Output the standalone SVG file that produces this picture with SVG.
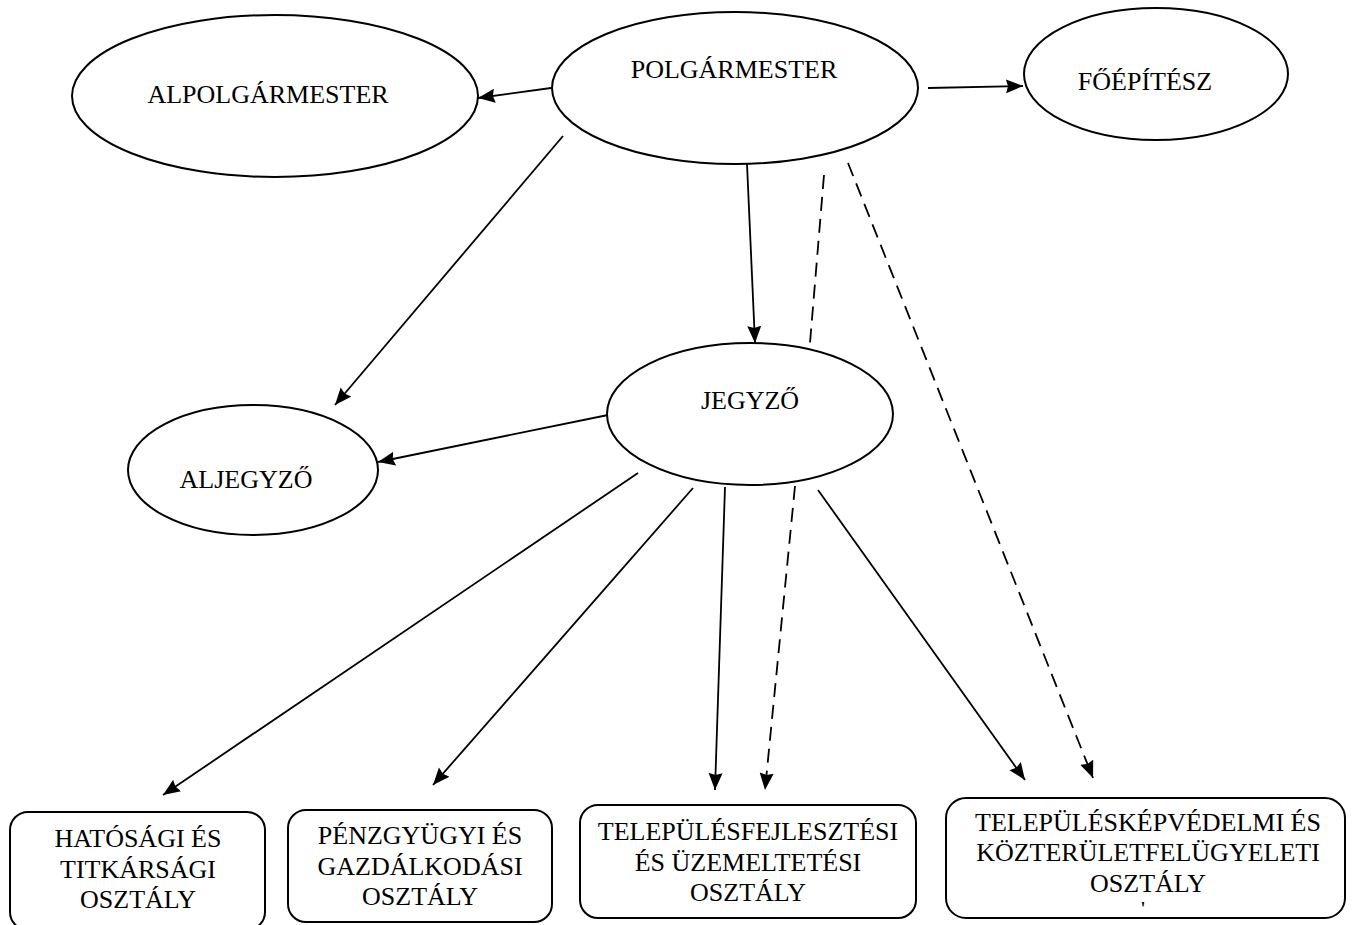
<svg xmlns="http://www.w3.org/2000/svg" width="1357" height="925" viewBox="0 0 1357 925">
<style>
.node{fill:#fff;stroke:#000;stroke-width:2}
.t{font-family:"Liberation Serif","Times New Roman",serif;font-size:26px;fill:#000;text-anchor:middle}
.c{fill:none;stroke:#000;stroke-width:1.8}
.d{stroke-dasharray:14 8}
</style>
<defs>
<marker id="ah" markerUnits="userSpaceOnUse" markerWidth="20" markerHeight="16" refX="17" refY="7" orient="auto">
<path d="M0,0 L17,7 L0,14 L2,7 z" fill="#000"/>
</marker>
</defs>
<rect width="1357" height="925" fill="#fff"/>
<g id="connectors">
<line class="c" x1="551" y1="88" x2="478" y2="98" marker-end="url(#ah)"/>
<line class="c" x1="928" y1="88" x2="1023" y2="86" marker-end="url(#ah)"/>
<line class="c" x1="563" y1="136" x2="335" y2="405" marker-end="url(#ah)"/>
<line class="c" x1="747" y1="164" x2="755" y2="343" marker-end="url(#ah)"/>
<line class="c d" x1="824" y1="175" x2="810" y2="343"/>
<line class="c d" x1="795" y1="486" x2="765" y2="790" marker-end="url(#ah)"/>
<line class="c d" x1="848" y1="163" x2="1093" y2="778" marker-end="url(#ah)"/>
<line class="c" x1="608" y1="415" x2="378" y2="462" marker-end="url(#ah)"/>
<line class="c" x1="638" y1="473" x2="163" y2="795" marker-end="url(#ah)"/>
<line class="c" x1="693" y1="488" x2="433" y2="785" marker-end="url(#ah)"/>
<line class="c" x1="725" y1="487" x2="715" y2="790" marker-end="url(#ah)"/>
<line class="c" x1="818" y1="490" x2="1025" y2="780" marker-end="url(#ah)"/>
</g>
<g id="alpolgarmester">
<ellipse class="node" cx="275" cy="96" rx="203" ry="81"/>
<text class="t" x="268" y="103">ALPOLGÁRMESTER</text>
</g>
<g id="polgarmester">
<ellipse class="node" cx="735" cy="88" rx="183" ry="76"/>
<text class="t" x="734" y="78">POLGÁRMESTER</text>
</g>
<g id="foepitesz">
<ellipse class="node" cx="1156" cy="74" rx="132" ry="66"/>
<text class="t" x="1145" y="90">FŐÉPÍTÉSZ</text>
</g>
<g id="jegyzo">
<ellipse class="node" cx="750" cy="414" rx="143" ry="71"/>
<text class="t" x="750" y="409">JEGYZŐ</text>
</g>
<g id="aljegyzo">
<ellipse class="node" cx="253" cy="470" rx="125" ry="65"/>
<text class="t" x="246" y="488">ALJEGYZŐ</text>
</g>
<g id="hatosagi">
<rect class="node" x="10" y="812" width="255" height="118" rx="18"/>
<text class="t" x="138" y="847">HATÓSÁGI ÉS</text>
<text class="t" x="138" y="878">TITKÁRSÁGI</text>
<text class="t" x="138" y="908">OSZTÁLY</text>
</g>
<g id="penzugyi">
<rect class="node" x="288" y="810" width="264" height="112" rx="18"/>
<text class="t" x="420" y="844">PÉNZGYÜGYI ÉS</text>
<text class="t" x="420" y="875">GAZDÁLKODÁSI</text>
<text class="t" x="420" y="905">OSZTÁLY</text>
</g>
<g id="telepulesfejlesztesi">
<rect class="node" x="580" y="805" width="336" height="113" rx="18"/>
<text class="t" x="748" y="840">TELEPÜLÉSFEJLESZTÉSI</text>
<text class="t" x="748" y="871">ÉS ÜZEMELTETÉSI</text>
<text class="t" x="748" y="901">OSZTÁLY</text>
</g>
<g id="telepuleskepvedelmi">
<rect class="node" x="946" y="798" width="399" height="120" rx="20"/>
<text class="t" x="1148" y="831">TELEPÜLÉSKÉPVÉDELMI ÉS</text>
<text class="t" x="1148" y="861">KÖZTERÜLETFELÜGYELETI</text>
<text class="t" x="1148" y="892">OSZTÁLY</text>
<text class="t" x="1143" y="915" style="font-size:18px;font-weight:bold">'</text>
</g>
</svg>
